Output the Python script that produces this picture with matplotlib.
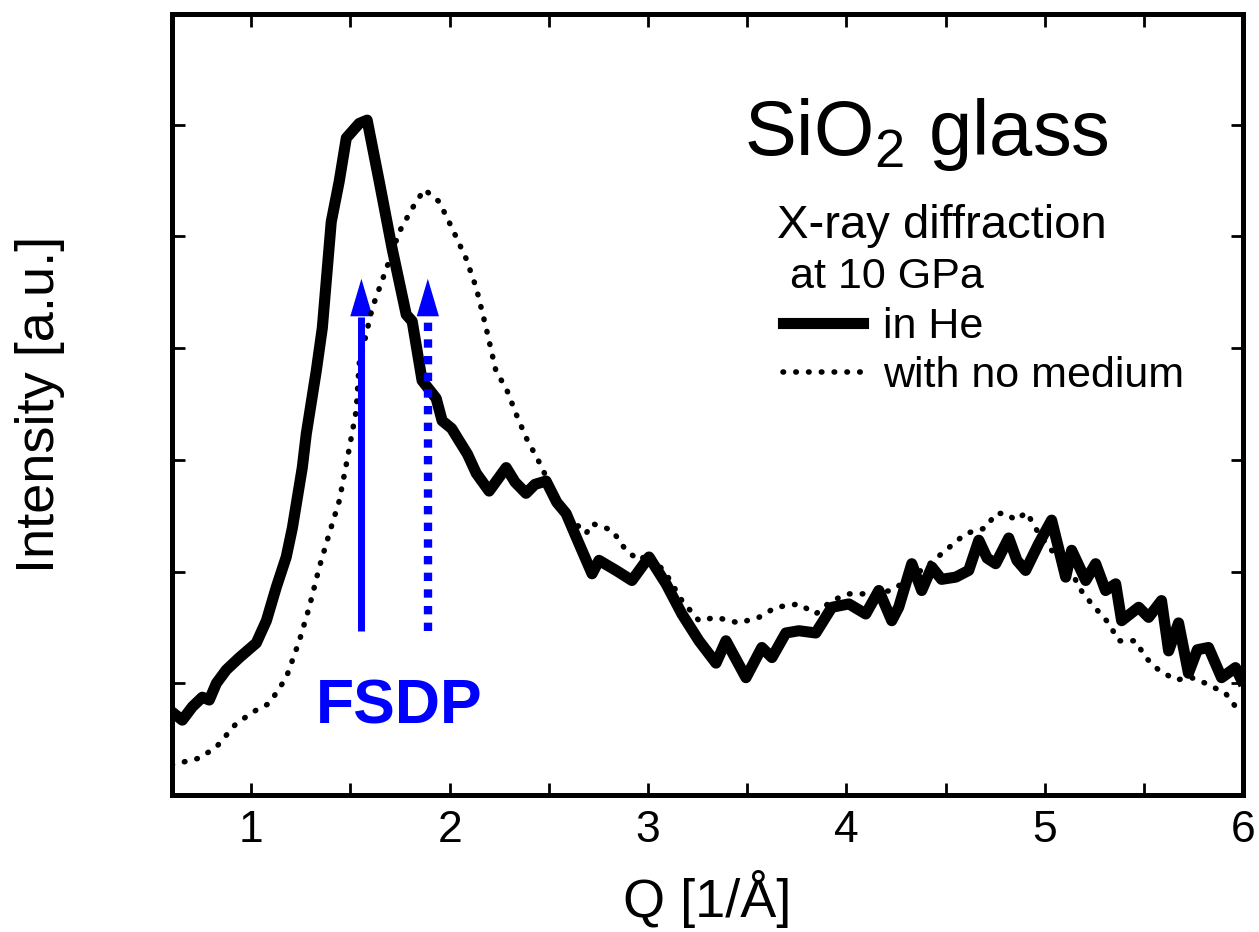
import matplotlib
matplotlib.use("Agg")
import matplotlib.pyplot as plt
from matplotlib.patches import FancyArrowPatch

plt.rcParams["font.family"] = ["Liberation Sans", "DejaVu Sans"]
plt.rcParams["mathtext.default"] = "regular"

# in He (solid)
q_he = [0.602, 0.652, 0.703, 0.753, 0.788, 0.824, 0.874, 0.940, 1.025, 1.076,
        1.126, 1.176, 1.207, 1.257, 1.277, 1.327, 1.358, 1.403, 1.443, 1.479,
        1.544, 1.584, 1.645, 1.710, 1.781, 1.811, 1.861, 1.932, 1.962, 2.010,
        2.048, 2.090, 2.134, 2.199, 2.285, 2.330, 2.385, 2.430, 2.486, 2.540,
        2.587, 2.652, 2.718, 2.753, 2.839, 2.919, 3.005, 3.091, 3.171, 3.257,
        3.343, 3.393, 3.494, 3.574, 3.625, 3.695, 3.761, 3.846, 3.927, 4.013,
        4.098, 4.164, 4.229, 4.264, 4.330, 4.380, 4.431, 4.480, 4.552, 4.617,
        4.668, 4.710, 4.753, 4.819, 4.860, 4.904, 4.970, 5.035, 5.106, 5.136,
        5.207, 5.257, 5.307, 5.358, 5.388, 5.474, 5.524, 5.589, 5.625, 5.675,
        5.725, 5.770, 5.826, 5.892, 5.962, 5.992]
i_he = [0.74, 0.67, 0.79, 0.875, 0.85, 1.00, 1.12, 1.23, 1.36, 1.56,
        1.86, 2.13, 2.39, 2.93, 3.23, 3.79, 4.18, 5.13, 5.49, 5.88,
        6.01, 6.04, 5.49, 4.89, 4.30, 4.24, 3.71, 3.55, 3.35, 3.28,
        3.17, 3.05, 2.88, 2.72, 2.93, 2.80, 2.70, 2.78, 2.81, 2.62,
        2.52, 2.25, 1.98, 2.10, 2.01, 1.92, 2.13, 1.89, 1.62, 1.38,
        1.18, 1.38, 1.05, 1.32, 1.23, 1.45, 1.47, 1.45, 1.68, 1.71,
        1.62, 1.83, 1.56, 1.68, 2.07, 1.83, 2.04, 1.93, 1.95, 2.01,
        2.28, 2.12, 2.07, 2.30, 2.10, 2.01, 2.25, 2.46, 1.95, 2.19,
        1.92, 2.07, 1.83, 1.89, 1.56, 1.68, 1.59, 1.74, 1.29, 1.54,
        1.09, 1.30, 1.32, 1.05, 1.14, 1.03]

# with no medium (dotted)
q_nm = [0.60, 0.738, 0.824, 0.924, 1.025, 1.091, 1.176, 1.242, 1.292, 1.343,
        1.393, 1.443, 1.479, 1.529, 1.544, 1.610, 1.695, 1.746, 1.811, 1.872,
        1.947, 2.013, 2.083, 2.134, 2.184, 2.234, 2.285, 2.335, 2.385, 2.466,
        2.537, 2.617, 2.688, 2.718, 2.819, 2.889, 2.955, 3.005, 3.091, 3.171,
        3.257, 3.343, 3.458, 3.559, 3.645, 3.761, 3.846, 3.927, 4.013, 4.098,
        4.229, 4.401, 4.501, 4.602, 4.703, 4.753, 4.804, 4.854, 4.909, 4.970,
        5.035, 5.136, 5.171, 5.237, 5.322, 5.373, 5.458, 5.509, 5.574, 5.660,
        5.741, 5.811, 5.912, 5.992]
i_nm = [0.27, 0.33, 0.43, 0.64, 0.76, 0.82, 1.05, 1.38, 1.68, 2.04,
        2.34, 2.63, 2.96, 3.44, 3.86, 4.36, 4.78, 5.04, 5.25, 5.42,
        5.31, 5.07, 4.80, 4.54, 4.18, 3.79, 3.64, 3.41, 3.20, 2.93,
        2.63, 2.46, 2.34, 2.43, 2.37, 2.19, 2.10, 2.16, 1.98, 1.74,
        1.56, 1.59, 1.54, 1.59, 1.68, 1.71, 1.62, 1.74, 1.80, 1.80,
        1.83, 2.04, 2.19, 2.34, 2.39, 2.52, 2.52, 2.46, 2.53, 2.34,
        2.19, 2.01, 1.86, 1.71, 1.54, 1.38, 1.38, 1.23, 1.12, 1.03,
        1.05, 1.00, 0.91, 0.72]

# FSDP arrows
fsdp_q = [1.555, 1.89]
fsdp_styles = ["solid", "dotted"]
arrow_base, arrow_tip = 1.47, 4.62

fig = plt.figure(figsize=(12.59, 9.32), dpi=100)
ax = fig.add_axes([0.1366, 0.147, 0.8507, 0.838])

ax.plot(q_he, i_he, color="black", lw=8, solid_joinstyle="round",
        label="in He")
ax.plot(q_nm, i_nm, color="black", lw=4, dashes=(0.1, 2.2),
        dash_capstyle="round", label="with no medium")

head_len = 0.34
for q, style in zip(fsdp_q, fsdp_styles):
    if style == "solid":
        ax.plot([q, q], [arrow_base, arrow_tip - head_len], color="blue",
                lw=5, solid_capstyle="butt")
    else:
        ax.plot([q, q], [arrow_base, arrow_tip - head_len], color="blue",
                lw=6, dashes=(1, 1), dash_capstyle="butt")
    head = FancyArrowPatch((q, arrow_tip - head_len), (q, arrow_tip),
                           arrowstyle="-|>,head_length=27,head_width=8",
                           mutation_scale=1, color="blue", lw=0,
                           shrinkA=0, shrinkB=0)
    ax.add_patch(head)

ax.text(1.745, 0.64, "FSDP", color="blue", fontsize=45, fontweight="bold",
        ha="center", va="baseline")

ax.text(0.704, 0.8195, r"SiO$_2$ glass", transform=ax.transAxes,
        fontsize=56, ha="center", va="baseline")
ax.text(0.565, 0.713, "X-ray diffraction", transform=ax.transAxes,
        fontsize=34, ha="left", va="baseline")
ax.text(0.577, 0.649, "at 10 GPa", transform=ax.transAxes,
        fontsize=31, ha="left", va="baseline")

ax.legend(loc="upper left", bbox_to_anchor=(0.5705, 0.625), frameon=False,
          fontsize=31, borderpad=0, borderaxespad=0, labelspacing=0.21,
          handlelength=1.86, handletextpad=0.47)

ax.set_xlim(0.6, 6.0)
ax.set_ylim(0, 6.99)
ax.set_xticks([1, 2, 3, 4, 5, 6])
ax.set_xticks([1.5, 2.5, 3.5, 4.5, 5.5], minor=True)
ax.set_yticks([1, 2, 3, 4, 5, 6])
ax.set_yticklabels([])
ax.tick_params(which="both", direction="in", top=True, right=True,
               length=9, width=2, labelsize=32, pad=11)

for s in ax.spines.values():
    s.set_linewidth(3.6)

ax.set_xlabel("Q [1/Å]", fontsize=39)
ax.set_ylabel("Intensity [a.u.]", fontsize=39)
ax.xaxis.set_label_coords(0.5, -0.096)
ax.yaxis.set_label_coords(-0.100, 0.5)

fig.savefig("out.png", dpi=100)
